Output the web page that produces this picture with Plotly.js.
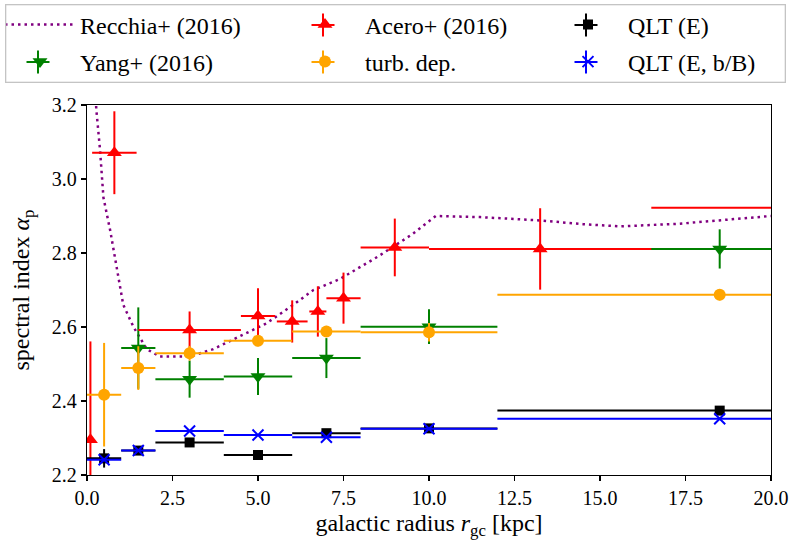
<!DOCTYPE html>
<html><head><meta charset="utf-8">
<script src="https://cdn.plot.ly/plotly-3.0.1.min.js"></script>
<style>html,body{margin:0;padding:0;background:#fff}</style>
</head><body>
<div id="chart" style="width:792px;height:541px"></div>
<script>
// Recchia+ (2016) model curve
const recchiaX = [0.25, 0.27, 0.38, 0.48, 0.68, 0.86, 1.06, 1.36, 1.75, 2.13, 3.0, 3.69, 4.47, 5.25, 6.03, 6.62, 7.4, 8.5, 9.5, 10.2, 11.5, 13.25, 14.5, 15.6, 17.3, 20.0];
const recchiaY = [3.25, 3.19, 3.08, 2.95, 2.86, 2.77, 2.66, 2.60, 2.54, 2.52, 2.52, 2.54, 2.575, 2.61, 2.66, 2.70, 2.73, 2.79, 2.85, 2.90, 2.897, 2.888, 2.878, 2.872, 2.879, 2.90];

// Acero+ (2016)
const aceroX = [0.1, 0.8, 3.0, 5.0, 6.0, 6.75, 7.5, 9.0, 13.25, 20.75];
const aceroXerr = [0, 0.65, 1.5, 0.5, 0.45, 0.25, 0.5, 1.0, 3.25, 4.25];
const aceroY = [2.295, 3.071, 2.592, 2.630, 2.615, 2.642, 2.678, 2.815, 2.811, 2.922];
const aceroYerr = [0.266, 0.112, 0.05, 0.075, 0.057, 0.068, 0.069, 0.078, 0.11, 0];

// Yang+ (2016)
const yangX = [1.5, 3.0, 5.0, 7.0, 10.0, 18.5];
const yangXerr = [0.5, 1.0, 1.0, 1.0, 2.0, 6.5];
const yangY = [2.543, 2.459, 2.466, 2.516, 2.601, 2.811];
const yangYerr = [0.11, 0.05, 0.05, 0.054, 0.047, 0.053];

// turb. dep.
const turbX = [0.5, 1.5, 3.0, 5.0, 7.0, 10.0, 18.5];
const turbXerr = [0.5, 0.5, 1.0, 1.0, 1.0, 2.0, 6.5];
const turbY = [2.417, 2.489, 2.529, 2.563, 2.588, 2.586, 2.687];
const turbYerr = [0.14, 0.059, 0.02, 0.015, 0.015, 0.025, 0.015];

// QLT (E)
const qltX = [0.5, 1.5, 3.0, 5.0, 7.0, 10.0, 18.5];
const qltXerr = [0.5, 0.5, 1.0, 1.0, 1.0, 2.0, 6.5];
const qltY = [2.245, 2.266, 2.288, 2.254, 2.313, 2.326, 2.374];
const qltYerr = [0.025, 0, 0, 0, 0, 0, 0];

// QLT (E, b/B)
const qltbX = [0.5, 1.5, 3.0, 5.0, 7.0, 10.0, 18.5];
const qltbXerr = [0.5, 0.5, 1.0, 1.0, 1.0, 2.0, 6.5];
const qltbY = [2.241, 2.266, 2.319, 2.308, 2.302, 2.325, 2.352];

const xTicks = [0, 2.5, 5, 7.5, 10, 12.5, 15, 17.5, 20];
const yTicks = [2.2, 2.4, 2.6, 2.8, 3.0, 3.2];

const FONT = 'Liberation Serif, Times New Roman, serif';

function errX(arr, color) {
  return {type: 'data', symmetric: true, array: arr, thickness: 2, width: 0, color: color};
}

const traces = [
  {x: recchiaX, y: recchiaY, mode: 'lines', name: 'Recchia+ (2016)',
   line: {color: '#800080', width: 2.5, dash: '2.5px,4px'}, legend: 'legend'},
  {x: yangX, y: yangY, mode: 'markers', name: 'Yang+ (2016)',
   marker: {symbol: 'triangle-down', size: 13, color: '#008000'},
   error_x: errX(yangXerr, '#008000'), error_y: errX(yangYerr, '#008000'), legend: 'legend2'},
  {x: aceroX, y: aceroY, mode: 'markers', name: 'Acero+ (2016)',
   marker: {symbol: 'triangle-up', size: 13, color: '#ff0000'},
   error_x: errX(aceroXerr, '#ff0000'), error_y: errX(aceroYerr, '#ff0000'), legend: 'legend3'},
  {x: turbX, y: turbY, mode: 'markers', name: 'turb. dep.',
   marker: {symbol: 'circle', size: 12, color: '#ffa500'},
   error_x: errX(turbXerr, '#ffa500'), error_y: errX(turbYerr, '#ffa500'), legend: 'legend4'},
  {x: qltX, y: qltY, mode: 'markers', name: 'QLT (E)',
   marker: {symbol: 'square', size: 10, color: '#000000'},
   error_x: errX(qltXerr, '#000000'), error_y: errX(qltYerr, '#000000'), legend: 'legend5'},
  {x: qltbX, y: qltbY, mode: 'markers', name: 'QLT (E, b/B)',
   marker: {symbol: 'x-thin-open', size: 11, color: '#0000ff', line: {color: '#0000ff', width: 2}},
   error_x: errX(qltbXerr, '#0000ff'), legend: 'legend6'}
];

const L = 87, T = 105, PW = 684, PH = 370;
function px2x(p) { return (p - L) / PW; }
function py2y(p) { return (T + PH - p) / PH; }

const ROW1 = 25, ROW2 = 62;
const COLS = [0, 285, 548];      // legend left edges (px)
const SYM = [38, 323, 586];      // legend symbol centres (px)

function leg(xpx, ypx) {
  return {x: px2x(xpx), y: py2y(ypx), xanchor: 'left', yanchor: 'middle',
    bgcolor: 'rgba(255,255,255,0)', borderwidth: 0, itemwidth: 70,
    font: {family: FONT, size: 24, color: '#000'}};
}

// legend frame and error-bar crosses behind legend markers
const BOX = {l: 5, r: 785, t: 5, b: 83};
const frameCol = '#c4c4c4';
const shapes = [];
function pxLine(x0, y0, x1, y1, col, w) {
  shapes.push({type: 'line', xref: 'paper', yref: 'paper', layer: 'above',
    x0: px2x(x0), x1: px2x(x1), y0: py2y(y0), y1: py2y(y1), line: {color: col, width: w}});
}
const crossSpecs = [
  [SYM[0], ROW2, '#008000'], [SYM[1], ROW1, '#ff0000'], [SYM[1], ROW2, '#ffa500'],
  [SYM[2], ROW1, '#000000'], [SYM[2], ROW2, '#0000ff']
];
crossSpecs.forEach(([cx, cy, col]) => {
  pxLine(cx - 11.5, cy, cx + 11.5, cy, col, 2);
  pxLine(cx, cy - 11.5, cx, cy + 11.5, col, 2);
});

const annotations = [{
  xref: 'paper', yref: 'paper', x: px2x((BOX.l + BOX.r) / 2), y: py2y((BOX.t + BOX.b) / 2),
  xanchor: 'center', yanchor: 'middle', text: ' ', showarrow: false,
  width: BOX.r - BOX.l - 2, height: BOX.b - BOX.t - 2, borderpad: 0,
  bordercolor: frameCol, borderwidth: 1.3, bgcolor: 'rgba(0,0,0,0)'
}];

const layout = {
  width: 792, height: 541,
  margin: {l: L, r: 792 - L - PW, t: T, b: 541 - T - PH, autoexpand: false},
  paper_bgcolor: '#fff', plot_bgcolor: '#fff',
  font: {family: FONT, size: 20, color: '#000'},
  xaxis: {range: [0, 20], tickvals: xTicks, tickformat: '.1f', ticks: 'outside', ticklen: 5,
    tickwidth: 1.2, tickcolor: '#000', showline: true, mirror: true, linecolor: '#000', linewidth: 1.3,
    showgrid: false, zeroline: false, tickfont: {family: FONT, size: 20}, automargin: false,
    title: {text: 'galactic radius <i>r</i><sub>gc</sub> [kpc]', font: {family: FONT, size: 24}, standoff: 6}},
  yaxis: {range: [2.2, 3.2], tickvals: yTicks, tickformat: '.1f', ticks: 'outside', ticklen: 5,
    tickwidth: 1.2, tickcolor: '#000', showline: true, mirror: true, linecolor: '#000', linewidth: 1.3,
    showgrid: false, zeroline: false, tickfont: {family: FONT, size: 20}, automargin: false,
    title: {text: 'spectral index <i>α</i><sub>p</sub>', font: {family: FONT, size: 24}, standoff: 15}},
  showlegend: true,
  legend: leg(COLS[0], ROW1),
  legend2: leg(COLS[0], ROW2),
  legend3: leg(COLS[1], ROW1),
  legend4: leg(COLS[1], ROW2),
  legend5: leg(COLS[2], ROW1),
  legend6: leg(COLS[2], ROW2),
  shapes: shapes,
  annotations: annotations
};

Plotly.newPlot('chart', traces, layout, {displayModeBar: false, staticPlot: true});
</script>
</body></html>
